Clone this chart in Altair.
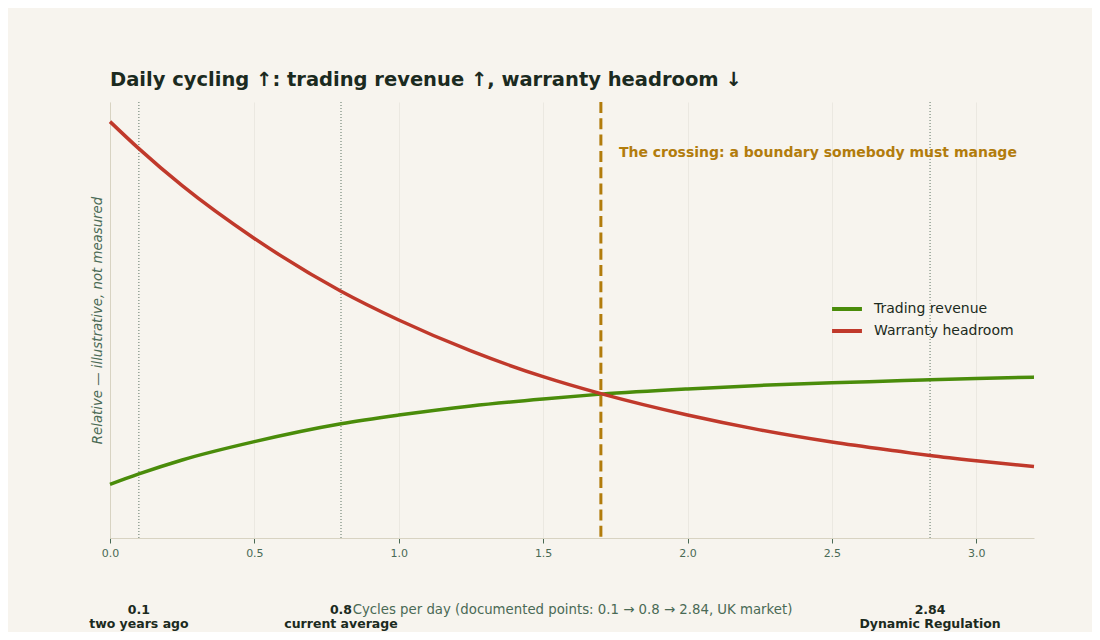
import altair as alt
import pandas as pd

cycles = [0.0, 0.1, 0.25, 0.5, 0.8, 1.0, 1.25, 1.5, 1.7, 2.0, 2.25, 2.5, 2.75, 2.84, 3.0, 3.2]
trading = [0.123, 0.147, 0.179, 0.221, 0.262, 0.282, 0.303, 0.319, 0.330, 0.342, 0.350, 0.356, 0.361, 0.363, 0.366, 0.369]
warranty = [0.955, 0.893, 0.808, 0.687, 0.566, 0.500, 0.429, 0.370, 0.331, 0.282, 0.248, 0.220, 0.197, 0.189, 0.177, 0.164]

series_names = ['Trading revenue', 'Warranty headroom']
series_colors = ['#4a8c0a', '#c0392b']

# documented points
marker_x = [0.1, 0.8, 2.84]
marker_names = ['two years ago', 'current average', 'Dynamic Regulation']

crossing_x = [1.7]
crossing_note = ['The crossing: a boundary somebody must manage']

x_ticks = [0.0, 0.5, 1.0, 1.5, 2.0, 2.5, 3.0]

bg = '#f7f4ee'
ink = '#1b2a20'
muted = '#4a6a55'
gold = '#b27c0c'

lines_df = pd.DataFrame({
    'cycles': cycles * 2,
    'value': trading + warranty,
    'series': [series_names[0]] * len(cycles) + [series_names[1]] * len(cycles),
})
markers_df = pd.DataFrame({
    'x': marker_x,
    'label': [f'{x}\n{n}' for x, n in zip(marker_x, marker_names)],
})
cross_df = pd.DataFrame({'x': crossing_x, 'note': crossing_note})

x_scale = alt.Scale(domain=[0, 3.2], nice=False, zero=False)
y_scale = alt.Scale(domain=[0, 1], nice=False)

lines = alt.Chart(lines_df).mark_line(
    strokeWidth=3.5, interpolate='monotone'
).encode(
    x=alt.X('cycles:Q', scale=x_scale,
            axis=alt.Axis(values=x_ticks, format='.1f', labelFlush=False,
                          labelPadding=4,
                          title='Cycles per day (documented points: 0.1 \u2192 0.8 \u2192 2.84, UK market)',
                          titlePadding=44)),
    y=alt.Y('value:Q', scale=y_scale,
            axis=alt.Axis(title='Relative \u2014 illustrative, not measured',
                          labels=False, ticks=False, grid=False,
                          titlePadding=6, titleFontStyle='italic')),
    color=alt.Color('series:N',
                    scale=alt.Scale(domain=series_names, range=series_colors),
                    legend=alt.Legend(title=None, orient='none',
                                      legendX=723.5, legendY=193.5,
                                      symbolType='M-1.3,0H1.3',
                                      symbolSize=529, symbolStrokeWidth=4,
                                      rowPadding=0, labelOffset=13.5,
                                      labelFontSize=14, labelColor=ink,
                                      padding=0)),
)

marker_rules = alt.Chart(markers_df).mark_rule(
    color='#5f7565', strokeWidth=1, strokeDash=[1, 2]
).encode(x=alt.X('x:Q', scale=x_scale))

# labels for the documented points, below the axis
marker_text = alt.Chart(markers_df).mark_text(
    fontSize=12.5, fontWeight='bold', color=ink, baseline='top',
    lineBreak='\n', lineHeight=14, clip=False
).encode(
    x=alt.X('x:Q', scale=x_scale),
    y=alt.value(502),
    text='label:N',
)

cross_rule = alt.Chart(cross_df).mark_rule(
    color=gold, strokeWidth=3, strokeDash=[11, 5.3]
).encode(x=alt.X('x:Q', scale=x_scale))

cross_text = alt.Chart(cross_df).mark_text(
    fontSize=14, fontWeight='bold', color=gold, align='left', dx=18
).encode(
    x=alt.X('x:Q', scale=x_scale),
    y=alt.value(51),
    text='note:N',
)

chart = alt.layer(
    marker_rules, cross_rule, lines, marker_text, cross_text
).properties(
    width=924,
    height=436,
    padding={'left': 102, 'top': 94, 'right': 58, 'bottom': 94},
    autosize=alt.AutoSizeParams(type='none'),
    background=bg,
    title=alt.TitleParams(
        'Daily cycling \u2191: trading revenue \u2191, warranty headroom \u2193',
        anchor='start', frame='group', fontSize=19.5, fontWeight='bold',
        color=ink, font='DejaVu Sans', offset=10),
).configure_view(
    stroke=None
).configure_axis(
    labelFont='DejaVu Sans', titleFont='DejaVu Sans',
    labelFontSize=11, titleFontSize=13.3, titleFontWeight='normal',
    labelColor=muted, titleColor=muted,
    domainColor='#d8d3c2', tickColor=muted, tickSize=5,
    gridColor='#ebe8e1',
).configure_legend(
    labelFont='DejaVu Sans'
).configure_text(
    font='DejaVu Sans'
)

chart.save('out.html', embed_options={'renderer': 'svg', 'actions': False})
